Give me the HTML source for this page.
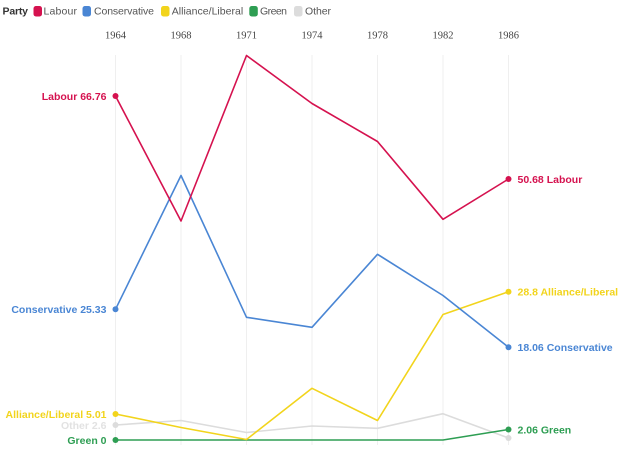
<!DOCTYPE html>
<html><head><meta charset="utf-8"><style>
html,body{margin:0;padding:0;background:#fff;}
svg{display:block;}
text{font-family:"Liberation Sans",sans-serif;}
</style></head><body>
<svg width="625" height="450" viewBox="0 0 625 450" xmlns="http://www.w3.org/2000/svg">
<!-- legend -->
<text x="2.5" y="14.5" font-size="10.5" font-weight="bold" fill="#333" textLength="25.5">Party</text>
<rect x="33.5" y="6" width="8.5" height="10.5" rx="2.5" fill="#d5124f"/>
<text x="43.5" y="14.5" font-size="10.5" fill="#555" textLength="33.5">Labour</text>
<rect x="82.5" y="6" width="8.5" height="10.5" rx="2.5" fill="#4a86d4"/>
<text x="94" y="14.5" font-size="10.5" fill="#555" textLength="60">Conservative</text>
<rect x="161" y="6" width="8.5" height="10.5" rx="2.5" fill="#f2d41c"/>
<text x="171.7" y="14.5" font-size="10.5" fill="#555" textLength="71.5">Alliance/Liberal</text>
<rect x="249.3" y="6" width="8.5" height="10.5" rx="2.5" fill="#2e9e53"/>
<text x="260" y="14.5" font-size="10.5" fill="#555" textLength="27">Green</text>
<rect x="294" y="6" width="8.5" height="10.5" rx="2.5" fill="#dcdcdc"/>
<text x="305" y="14.5" font-size="10.5" fill="#555" textLength="26">Other</text>

<!-- year labels -->
<g font-family="Liberation Serif, serif" font-size="10.5" fill="#444" text-anchor="middle">
<text x="115.5" y="38.5" style="font-family:'Liberation Serif',serif">1964</text>
<text x="181" y="38.5" style="font-family:'Liberation Serif',serif">1968</text>
<text x="246.5" y="38.5" style="font-family:'Liberation Serif',serif">1971</text>
<text x="312" y="38.5" style="font-family:'Liberation Serif',serif">1974</text>
<text x="377.5" y="38.5" style="font-family:'Liberation Serif',serif">1978</text>
<text x="443" y="38.5" style="font-family:'Liberation Serif',serif">1982</text>
<text x="508.5" y="38.5" style="font-family:'Liberation Serif',serif">1986</text>
</g>

<!-- gridlines -->
<g stroke="#efefef" stroke-width="1">
<line x1="115.5" y1="55" x2="115.5" y2="445"/>
<line x1="181" y1="55" x2="181" y2="445"/>
<line x1="246.5" y1="55" x2="246.5" y2="445"/>
<line x1="312" y1="55" x2="312" y2="445"/>
<line x1="377.5" y1="55" x2="377.5" y2="445"/>
<line x1="443" y1="55" x2="443" y2="445"/>
<line x1="508.5" y1="55" x2="508.5" y2="445"/>
</g>

<g fill="none" stroke-width="1.6" stroke-linejoin="round">
<polyline stroke="#dcdcdc" points="115.5,425 181,420.5 246.5,432.5 312,426 377.5,428.3 443,413.7 508.5,438"/>
<polyline stroke="#2e9e53" points="115.5,440 181,440 246.5,440 312,440 377.5,440 443,440 508.5,429.5"/>
<polyline stroke="#f2d41c" points="115.5,414 181,427.5 246.5,439.5 312,388.3 377.5,420.5 443,314.5 508.5,291.7"/>
<polyline stroke="#4a86d4" points="115.5,309.3 181,175.5 246.5,317.3 312,327.3 377.5,254.3 443,295.5 508.5,347.3"/>
<polyline stroke="#d5124f" points="115.5,96 181,221 246.5,55.5 312,103.5 377.5,141.5 443,219.3 508.5,179"/>
</g>

<!-- dots -->
<circle cx="115.5" cy="425" r="3" fill="#dcdcdc"/>
<circle cx="508.5" cy="438" r="3" fill="#dcdcdc"/>
<circle cx="115.5" cy="440" r="3" fill="#2e9e53"/>
<circle cx="508.5" cy="429.5" r="3" fill="#2e9e53"/>
<circle cx="115.5" cy="414" r="3" fill="#f2d41c"/>
<circle cx="508.5" cy="291.7" r="3" fill="#f2d41c"/>
<circle cx="115.5" cy="309.3" r="3" fill="#4a86d4"/>
<circle cx="508.5" cy="347.3" r="3" fill="#4a86d4"/>
<circle cx="115.5" cy="96" r="3" fill="#d5124f"/>
<circle cx="508.5" cy="179" r="3" fill="#d5124f"/>

<!-- left labels -->
<g font-size="10.5" font-weight="bold" text-anchor="end">
<text x="106.5" y="99.8" fill="#d5124f">Labour 66.76</text>
<text x="106.5" y="313.1" fill="#4a86d4">Conservative 25.33</text>
<text x="106.5" y="428.8" fill="#e2e2e2">Other 2.6</text>
<text x="106.5" y="417.8" fill="#f2d41c">Alliance/Liberal 5.01</text>
<text x="106.5" y="443.8" fill="#2e9e53">Green 0</text>
</g>
<!-- right labels -->
<g font-size="10.5" font-weight="bold">
<text x="517.5" y="182.8" fill="#d5124f">50.68 Labour</text>
<text x="517.5" y="295.5" fill="#f2d41c">28.8 Alliance/Liberal</text>
<text x="517.5" y="351.1" fill="#4a86d4">18.06 Conservative</text>
<text x="517.5" y="433.3" fill="#2e9e53">2.06 Green</text>
</g>
</svg>
</body></html>
